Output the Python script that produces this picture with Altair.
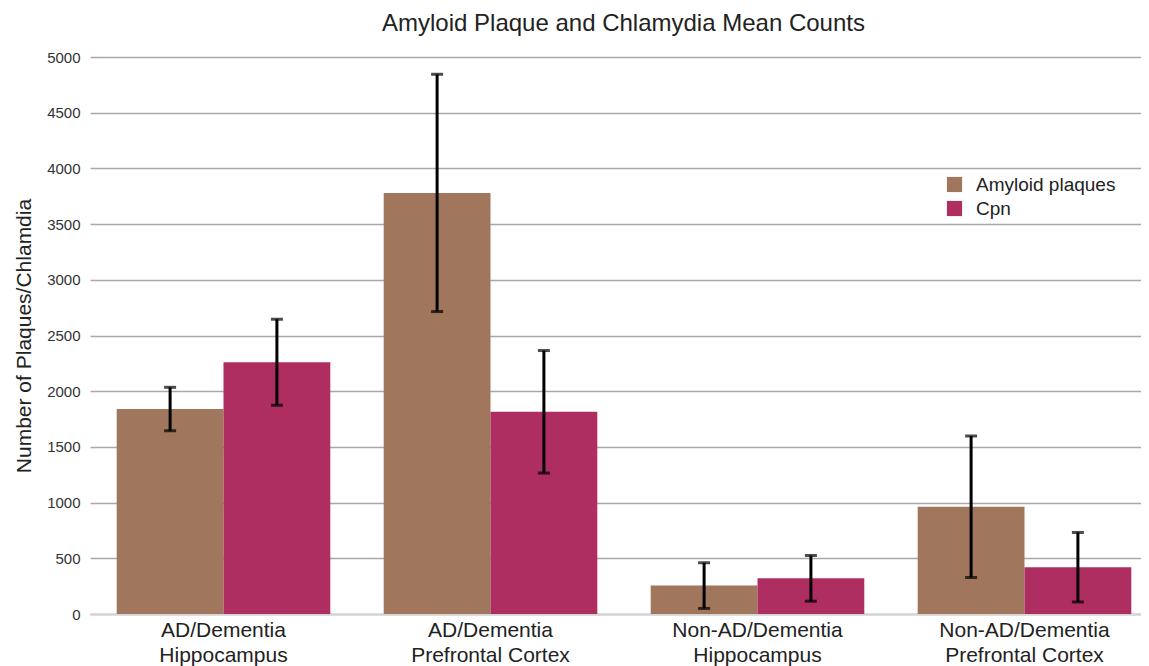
import altair as alt
import pandas as pd

categories = ["AD/Dementia|Hippocampus", "AD/Dementia|Prefrontal Cortex",
              "Non-AD/Dementia|Hippocampus", "Non-AD/Dementia|Prefrontal Cortex"]
series = ["Amyloid plaques", "Cpn"]
amyloid = [1840, 3780, 255, 963]
amyloid_err = [195, 1065, 205, 635]
cpn = [2260, 1815, 320, 420]
cpn_err = [386, 550, 205, 312]
colors = ["#A0765C", "#AE2E62"]
y_ticks = list(range(0, 5001, 500))

rows = []
for i, c in enumerate(categories):
    rows.append(dict(cat=c, series=series[0], value=amyloid[i],
                     lo=amyloid[i] - amyloid_err[i], hi=amyloid[i] + amyloid_err[i]))
    rows.append(dict(cat=c, series=series[1], value=cpn[i],
                     lo=cpn[i] - cpn_err[i], hi=cpn[i] + cpn_err[i]))
df = pd.DataFrame(rows)

FONT = "Liberation Sans"

x = alt.X("cat:N", sort=categories,
          scale=alt.Scale(paddingInner=0.2, paddingOuter=0.1, range=[0, 1068]),
          axis=alt.Axis(title=None, labelExpr="split(datum.label, '|')", labelAngle=0,
                        labelFontSize=21, labelColor="#222222", labelLineHeight=25,
                        labelPadding=5, ticks=False, domainColor="#d4d4d4", domainWidth=2,
                        labelFont=FONT, labelBaseline="top"))
xo = alt.XOffset("series:N", sort=series, scale=alt.Scale(paddingInner=0, paddingOuter=0))

y_scale = alt.Scale(domain=[0, 5000], nice=False)

bars = alt.Chart(df).mark_bar(opacity=1).encode(
    x=x,
    xOffset=xo,
    y=alt.Y("value:Q", scale=y_scale,
            axis=alt.Axis(title="Number of Plaques/Chlamdia", values=y_ticks, format="d",
                          titleFontSize=21, titleFont=FONT, titleFontWeight="normal",
                          titleColor="#222222", titlePadding=12,
                          labelFontSize=15, labelFont=FONT, labelColor="#333333",
                          labelPadding=10, ticks=False, domain=False,
                          gridColor="#a8a8a8", gridWidth=1.5)),
    color=alt.Color("series:N", sort=series,
                    scale=alt.Scale(domain=series, range=colors),
                    legend=alt.Legend(title=None, orient="none", legendX=855, legendY=118,
                                      symbolType="square", symbolSize=230,
                                      symbolStrokeWidth=0, labelFontSize=19,
                                      labelFont=FONT, labelColor="#222222",
                                      labelOffset=12, rowPadding=4)),
)

rules = alt.Chart(df).mark_rule(color="black", strokeWidth=3).encode(
    x=alt.X("cat:N", sort=categories),
    xOffset=alt.XOffset("series:N", sort=series),
    y=alt.Y("lo:Q"),
    y2="hi:Q",
)

cap_lo = alt.Chart(df).mark_tick(color="black", thickness=3, size=12).encode(
    x=alt.X("cat:N", sort=categories),
    xOffset=alt.XOffset("series:N", sort=series),
    y=alt.Y("lo:Q"),
)
cap_hi = alt.Chart(df).mark_tick(color="black", thickness=3, size=12).encode(
    x=alt.X("cat:N", sort=categories),
    xOffset=alt.XOffset("series:N", sort=series),
    y=alt.Y("hi:Q"),
)

chart = alt.layer(bars, rules, cap_lo, cap_hi).properties(
    width=1051,
    height=557,
    autosize=alt.AutoSizeParams(type="none"),
    padding={"left": 82, "top": 49, "right": 0, "bottom": 52},
    background="white",
    title=alt.Title("Amyloid Plaque and Chlamydia Mean Counts", fontSize=24, font=FONT,
                    fontWeight="normal", color="#222222", offset=14, anchor="middle", dx=8),
).configure_view(stroke=None)

chart.save("out.html", embed_options={"renderer": "svg", "actions": False})
